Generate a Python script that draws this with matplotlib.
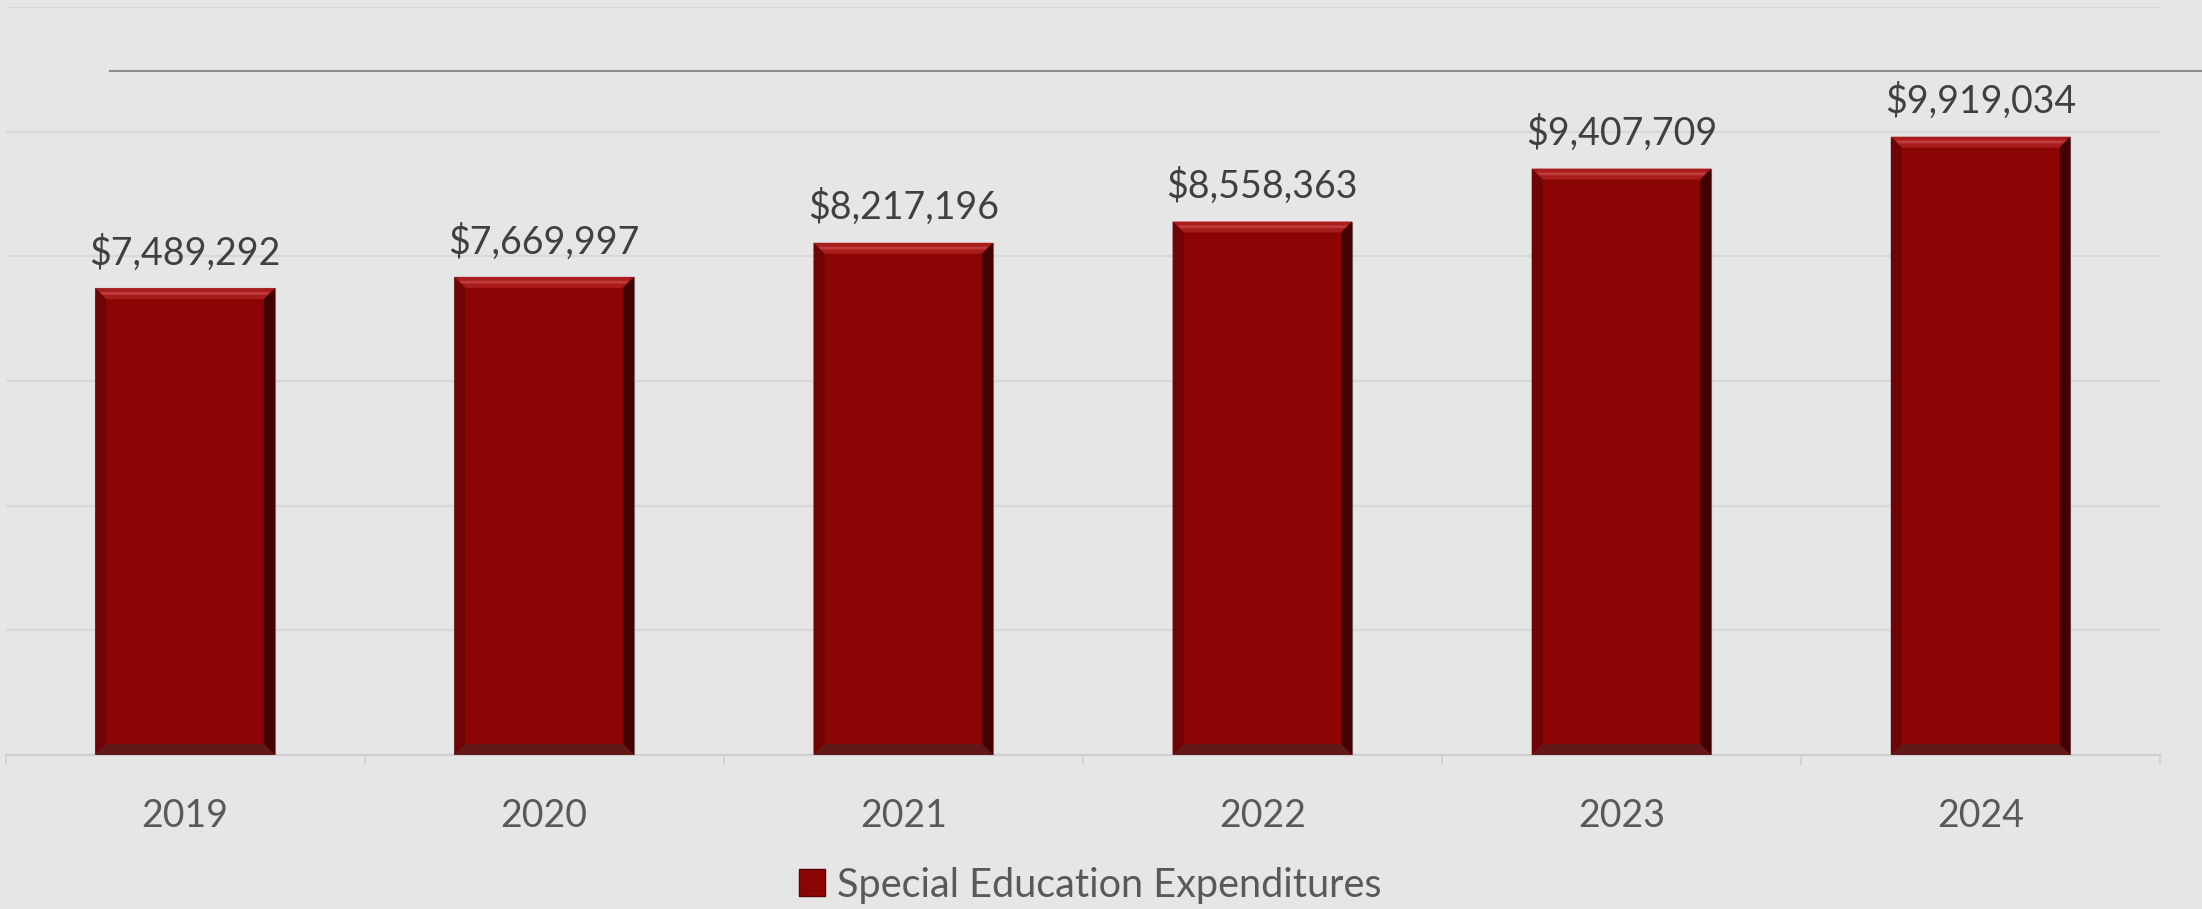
import matplotlib.pyplot as plt
from matplotlib.patches import Polygon
from matplotlib.lines import Line2D

years = ['2019', '2020', '2021', '2022', '2023', '2024']
spending = [7489292, 7669997, 8217196, 8558363, 9407709, 9919034]
series_name = 'Special Education Expenditures'

bg = '#e6e6e6'
bar_red = '#8b0505'

plt.rcParams['font.family'] = ['Lato', 'DejaVu Sans']

fig = plt.figure(figsize=(22.02, 9.09), dpi=100, facecolor=bg)
ax = fig.add_axes([0.0025, 0.1694, 0.9785, 0.8229], facecolor=bg)

x = range(len(years))
bars = ax.bar(x, spending, width=0.5, color=bar_red, edgecolor='#7a6a6a',
              linewidth=0.8, zorder=3)

ax.set_xlim(-0.5, len(years) - 0.5)
ax.set_ylim(0, 12000000)
ax.set_yticks(range(0, 12000001, 2000000))
ax.yaxis.grid(True, color='#d8d8d8', linewidth=1.6, zorder=0)
ax.set_axisbelow(True)
for s in ['top', 'right', 'left']:
    ax.spines[s].set_visible(False)
ax.spines['bottom'].set_color('#d0d0d0')
ax.spines['bottom'].set_linewidth(1.6)
ax.tick_params(axis='y', left=False, labelleft=False)

# category ticks sit on the boundaries, labels in the middle
ax.set_xticks([i - 0.5 for i in range(len(years) + 1)])
ax.set_xticklabels([])
ax.set_xticks(list(x), minor=True)
ax.set_xticklabels(years, minor=True)
ax.tick_params(axis='x', which='major', length=7, color='#d0d0d0', width=1.2)
ax.tick_params(axis='x', which='minor', length=0, pad=31, labelsize=27,
               labelcolor='#595959')

# bevel look on each bar
fig.canvas.draw()
inv = ax.transData.inverted()
p0 = inv.transform((0, 0))
p1 = inv.transform((11, 11))
bx, by = p1[0] - p0[0], p1[1] - p0[1]
for b in bars:
    x0, w, h = b.get_x(), b.get_width(), b.get_height()
    x1 = x0 + w
    faces = [
        ([(x0, h), (x1, h), (x1 - bx, h - by), (x0 + bx, h - by)], '#a81c1c'),
        ([(x0, 0), (x0 + bx, by), (x0 + bx, h - by), (x0, h)], '#700404'),
        ([(x1, 0), (x1 - bx, by), (x1 - bx, h - by), (x1, h)], '#420202'),
        ([(x0, 0), (x1, 0), (x1 - bx, by), (x0 + bx, by)], '#631818'),
    ]
    for pts, c in faces:
        ax.add_patch(Polygon(pts, closed=True, facecolor=c, edgecolor='none',
                             zorder=4))
    ax.add_patch(Polygon([(x0 + bx * 0.4, h - by * 0.35), (x1 - bx * 0.4, h - by * 0.35),
                          (x1 - bx * 0.7, h - by * 0.6), (x0 + bx * 0.7, h - by * 0.6)],
                         closed=True, facecolor='#c94a4a', edgecolor='none',
                         alpha=0.7, zorder=5))

for i, v in enumerate(spending):
    ax.annotate(f'${v:,.0f}', (i, v), xytext=(0, 17), textcoords='offset points',
                ha='center', va='baseline', fontsize=27, color='#404040')

# thin rule across the top
fig.add_artist(Line2D([110 / 2202, 1.0], [1 - 71 / 909, 1 - 71 / 909],
                      transform=fig.transFigure, color='#8c8c8c', linewidth=1.5))

handle = Polygon([[0, 0], [1, 0], [1, 1], [0, 1]], facecolor=bar_red,
                 edgecolor='#5a0000')
fig.legend([handle], [series_name], loc='center', bbox_to_anchor=(0.495, 1 - 885 / 909),
           frameon=False, fontsize=28.5, labelcolor='#595959', handlelength=0.65,
           handleheight=0.65, handletextpad=0.3)

fig.savefig('out.png', dpi=100, facecolor=bg)
